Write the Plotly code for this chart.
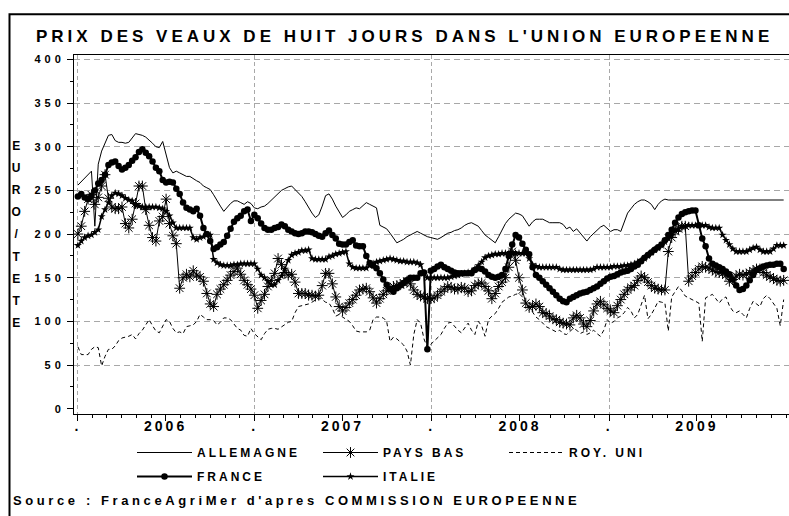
import pandas as pd
import plotly.graph_objects as go

# ---------------- data (weekly, from 1 Jan 2006) ----------------
weeks = pd.date_range("2006-01-01", periods=209, freq="7D")

allemagne = [
    256, 260, 264, 268, 272, 209, 280, 295, 305, 313,
    314, 307, 305, 305, 304, 305, 310, 315, 314, 313,
    311, 308, 304, 300, 299, 306, 290, 276, 270, 272,
    270, 268, 266, 266, 263, 261, 259, 255, 253, 251,
    245, 238, 232, 226, 231, 235, 238, 238, 236, 234,
    237, 235, 230, 229, 231, 232, 235, 239, 243, 247,
    250, 252, 254, 255, 251, 246, 243, 237, 230, 224,
    219, 222, 232, 244, 246, 240, 232, 225, 219, 222,
    226, 228, 230, 229, 232, 236, 234, 232, 230, 210,
    208, 206, 201, 196, 190, 192, 194, 197, 199, 201,
    203, 201, 199, 197, 196, 195, 194, 196, 199, 201,
    202, 204, 205, 207, 210, 212, 213, 211, 209, 204,
    199, 196, 193, 190, 197, 205, 212, 217, 220, 224,
    223, 221, 215, 209, 214, 217, 217, 217, 215, 213,
    213, 213, 213, 211, 206, 208, 203, 206, 201, 196,
    192, 197, 201, 205, 208, 210, 207, 203, 205, 205,
    203, 214, 224, 229, 234, 237, 239, 239, 237, 234,
    228, 234, 238, 240, 239, 239, 239, 239, 239, 239,
    239, 239, 239, 239, 239, 239, 239, 239, 239, 239,
    239, 239, 239, 239, 239, 239, 239, 239, 239, 239,
    239, 239, 239, 239, 239, 239, 239, 239, 239,
]

france = [
    243, 246, 242, 240, 244, 250, 258, 262, 268, 279,
    282, 283, 278, 274, 276, 279, 284, 288, 294, 297,
    293, 289, 283, 276, 272, 262, 259, 260, 259, 252,
    246, 236, 230, 228, 226, 229, 221, 207, 200, 192,
    183, 185, 188, 191, 198, 206, 214, 218, 221, 226,
    228, 215, 222, 218, 212, 207, 205, 205, 207, 208,
    211, 209, 205, 203, 201, 200, 201, 203, 203, 202,
    200, 198, 197, 201, 204, 199, 195, 189, 188, 188,
    191, 193, 187, 186, 186, 175, 167, 164, 161, 155,
    148, 142, 137, 134, 138, 141, 144, 147, 150, 150,
    150, 155, 156, 68, 158, 160, 163, 165, 162, 160,
    158, 156, 155, 155, 155, 155, 155, 159, 161, 160,
    157, 153, 151, 150, 151, 153, 160, 175, 188, 199,
    196, 189, 182, 177, 162, 153, 150, 146, 142, 138,
    134, 130, 126, 123, 122, 126, 128, 130, 132, 133,
    134, 136, 138, 140, 143, 146, 149, 151, 152, 154,
    156, 157, 158, 160, 163, 165, 169, 173, 176, 179,
    182, 185, 188, 193, 199, 205, 213, 219, 223, 225,
    226, 227, 227, 210, 195, 186, 172, 166, 164, 162,
    160, 157, 154, 148, 141, 136, 137, 141, 147, 153,
    159, 161, 163, 164, 165, 165, 166, 166, 160,
]

pays_bas = [
    200, 209, 226, 240, 245, 234, 242, 255, 268, 241,
    231, 229, 229, 231, 212, 207, 217, 235, 255, 255,
    228, 210, 196, 192, 215, 220, 240, 212, 198, 189,
    138, 150, 154, 151, 158, 153, 151, 146, 132, 120,
    117, 131, 137, 142, 147, 153, 157, 161, 154, 147,
    142, 137, 130, 115, 124, 131, 140, 147, 155, 172,
    165, 156, 153, 154, 145, 132, 132, 132, 130, 130,
    129, 130, 141, 155, 155, 143, 128, 117, 112, 116,
    121, 125, 130, 136, 137, 138, 134, 127, 121, 126,
    131, 135, 138, 140, 141, 142, 144, 146, 143, 136,
    131, 129, 128, 126, 126, 127, 130, 134, 137, 140,
    139, 137, 137, 139, 138, 134, 135, 141, 143, 144,
    140, 135, 126, 132, 140, 145, 150, 162, 180, 170,
    150, 136, 121, 116, 117, 120, 117, 110, 109, 106,
    103, 102, 99, 98, 97, 96, 104, 107, 104, 97,
    94, 101, 112, 120, 123, 119, 115, 112, 110, 118,
    125, 131, 136, 139, 141, 147, 152, 150, 145, 141,
    138, 137, 136, 136, 180, 196, 203, 206, 209, 209,
    146, 152, 156, 160, 163, 162, 161, 159, 157, 156,
    155, 153, 146, 148, 152, 154, 153, 154, 156, 158,
    160, 160, 156, 153, 151, 149, 147, 146, 147,
]

italie = [
    187, 192, 196, 198, 199, 202, 205, 220, 228, 236,
    244, 247, 246, 244, 241, 239, 238, 233, 232, 231,
    231, 231, 231, 231, 230, 229, 226, 221, 213, 207,
    207, 207, 207, 207, 196, 194, 196, 197, 199, 199,
    171, 167, 165, 164, 164, 164, 165, 165, 166, 166,
    166, 166, 166, 160, 153, 150, 146, 142, 142, 147,
    152, 160, 170, 176, 178, 179, 181, 181, 182, 172,
    171, 171, 171, 171, 174, 175, 177, 178, 179, 180,
    166, 162, 161, 161, 161, 161, 164, 166, 168, 169,
    170, 171, 172, 171, 170, 169, 169, 168, 168, 168,
    167, 165, 155, 150, 150, 150, 150, 150, 150, 150,
    151, 152, 153, 154, 155, 156, 157, 160, 164, 168,
    173, 175, 176, 177, 177, 178, 178, 178, 178, 178,
    178, 178, 178, 172, 165, 163, 162, 162, 162, 162,
    162, 162, 160, 159, 159, 159, 159, 159, 159, 159,
    159, 159, 160, 162, 162, 162, 162, 162, 163, 163,
    163, 164, 164, 165, 166, 168, 170, 172, 175, 179,
    182, 184, 187, 191, 195, 199, 204, 206, 209, 209,
    210, 210, 210, 210, 210, 210, 208, 207, 207, 207,
    199, 193, 188, 183, 180, 180, 180, 180, 182, 184,
    185, 182, 180, 180, 180, 183, 187, 187, 187,
]

roy_uni = [
    71, 62, 62, 62, 68, 71, 70, 49, 60, 68,
    68, 72, 78, 81, 82, 83, 85, 80, 86, 90,
    96, 102, 95, 89, 87, 94, 102, 100, 92, 87,
    88, 86, 94, 95, 96, 100, 108, 105, 102, 102,
    101, 96, 99, 104, 104, 102, 97, 92, 90, 84,
    83, 92, 86, 82, 79, 86, 91, 92, 92, 91,
    94, 97, 99, 100, 110, 117, 118, 119, 120, 122,
    125, 127, 125, 122, 121, 115, 106, 108, 105, 102,
    100, 95, 89, 88, 88, 88, 90, 102, 105, 105,
    104, 100, 77, 82, 80, 77, 73, 66, 50, 85,
    102, 98, 80, 70, 74, 78, 81, 85, 92, 98,
    99, 94, 90, 87, 92, 98, 90, 85, 100, 95,
    83, 102, 106, 109, 115, 122, 125, 128, 129, 131,
    132, 128, 122, 116, 110, 105, 102, 98, 94, 92,
    90, 88, 90, 86, 85, 88, 92, 90, 86, 88,
    85, 87, 90, 86, 83, 90, 102, 98, 100, 104,
    106, 110, 116, 112, 104, 108, 120, 130, 103, 108,
    115, 123, 122, 121, 89, 128, 134, 140, 135, 129,
    127, 125, 123, 121, 77, 127, 129, 131, 126, 121,
    126, 128, 118, 112, 110, 112, 108, 104, 115, 123,
    120, 117, 126, 130, 126, 120, 115, 95, 125,
]

year_starts = ["2006-01-01", "2007-01-01", "2008-01-01", "2009-01-01"]
mid_years = ["2006-07-01", "2007-07-01", "2008-07-01", "2009-07-01"]
year_labels = ["2006", "2007", "2008", "2009"]
y_ticks = [0, 50, 100, 150, 200, 250, 300, 350, 400]

X_RANGE = ["2005-12-24", "2010-01-07"]
Y_RANGE = [-6, 405]
FONT = "Liberation Sans, Arial, Helvetica, sans-serif"

fig = go.Figure()

fig.add_trace(go.Scatter(
    x=weeks, y=allemagne, name="ALLEMAGNE", mode="lines",
    line=dict(color="black", width=1), legend="legend"))
fig.add_trace(go.Scatter(
    x=weeks, y=france, name="FRANCE", mode="lines+markers",
    line=dict(color="black", width=2),
    marker=dict(symbol="circle", size=6.5, color="black"), legend="legend2"))
fig.add_trace(go.Scatter(
    x=weeks, y=pays_bas, name="PAYS BAS", mode="lines+markers",
    line=dict(color="black", width=1),
    marker=dict(symbol="asterisk-open", size=9, color="black",
                line=dict(color="black", width=1)), legend="legend"))
fig.add_trace(go.Scatter(
    x=weeks, y=italie, name="ITALIE", mode="lines+markers",
    line=dict(color="black", width=1.5),
    marker=dict(symbol="star", size=6, color="black"), legend="legend2"))
fig.add_trace(go.Scatter(
    x=weeks, y=roy_uni, name="ROY. UNI", mode="lines",
    line=dict(color="black", width=1, dash="4px,3px"), legend="legend"))
# empty trace that carries the grid axes
fig.add_trace(go.Scatter(x=[], y=[], xaxis="x2", yaxis="y2",
                         showlegend=False, hoverinfo="skip"))

tick_vals = []
tick_text = []
for ys, my, lab in zip(year_starts, mid_years, year_labels):
    tick_vals += [ys, my]
    tick_text += [".", lab]

fig.update_layout(
    width=789, height=516,
    margin=dict(l=74, r=0, t=55, b=102, autoexpand=False),
    paper_bgcolor="white", plot_bgcolor="white",
    font=dict(family=FONT, color="black", size=12),
    title=dict(text="PRIX DES VEAUX DE HUIT JOURS DANS L'UNION EUROPEENNE",
               x=36 / 789, xanchor="left", xref="container",
               y=1 - 36.5 / 516, yanchor="middle", yref="container",
               font=dict(family=FONT, size=17, weight="bold", color="black")),
    xaxis=dict(range=X_RANGE, type="date", tickmode="array",
               tickvals=tick_vals, ticktext=tick_text,
               showgrid=False, zeroline=False,
               ticks="outside", ticklen=6, tickcolor="black",
               ticklabelstandoff=-7,
               showline=True, linecolor="black", linewidth=1, mirror=True,
               tickfont=dict(family=FONT, size=14, weight="bold"),
               minor=dict(dtick="M1", tick0="2006-01-01", ticks="outside",
                          ticklen=3, tickcolor="black", showgrid=False)),
    yaxis=dict(range=Y_RANGE, tickmode="array", tickvals=y_ticks,
               showgrid=False, zeroline=False,
               ticks="outside", ticklen=6, tickcolor="black",
               showline=True, linecolor="black", linewidth=1,
               tickfont=dict(family=FONT, size=11, weight="bold"),
               minor=dict(dtick=25, tick0=0, ticks="outside", ticklen=3,
                          tickcolor="black", showgrid=False)),
    xaxis2=dict(range=X_RANGE, type="date", overlaying="x", side="bottom",
                tickmode="array", tickvals=year_starts,
                showticklabels=False, ticks="", showline=False,
                showgrid=True, gridcolor="#a8a8a8", gridwidth=1, griddash="4px,3px",
                zeroline=False),
    yaxis2=dict(range=Y_RANGE, overlaying="y", side="left",
                tickmode="array", tickvals=y_ticks[1:],
                showticklabels=False, ticks="", showline=False,
                showgrid=True, gridcolor="#a8a8a8", gridwidth=1, griddash="6px,4px",
                zeroline=False),
    legend=dict(orientation="h", x=(132 - 74) / 715, xanchor="left",
                y=(414 - 452.5) / 359, yanchor="middle",
                entrywidth=116, entrywidthmode="pixels", itemwidth=55,
                font=dict(family=FONT, size=12, weight="bold"),
                bgcolor="rgba(0,0,0,0)", borderwidth=0),
    legend2=dict(orientation="h", x=(132 - 74) / 715, xanchor="left",
                 y=(414 - 476.5) / 359, yanchor="middle",
                 entrywidth=116, entrywidthmode="pixels", itemwidth=55,
                 font=dict(family=FONT, size=12, weight="bold"),
                 bgcolor="rgba(0,0,0,0)", borderwidth=0),
    showlegend=True,
)

ylabel = "<br>".join(
    "<span style='font-size:12px'>" + c + "</span>" for c in "EURO/TETE")
fig.add_annotation(text=ylabel, xref="paper", yref="paper",
                   x=(18 - 74) / 715, y=(414 - 234) / 359,
                   xanchor="center", yanchor="middle", showarrow=False,
                   font=dict(family=FONT, size=17, weight="bold"))
fig.add_annotation(text="Source : FranceAgriMer d'apres COMMISSION EUROPEENNE",
                   xref="paper", yref="paper",
                   x=(11 - 74) / 715, y=(414 - 500) / 359,
                   xanchor="left", yanchor="middle", align="left",
                   showarrow=False,
                   font=dict(family=FONT, size=13, weight="bold"))

# outer frame of the figure
fig.add_shape(type="rect", xref="paper", yref="paper",
              x0=(9.5 - 74) / 715, x1=(800 - 74) / 715,
              y0=(414 - 530) / 359, y1=(414 - 14.3) / 359,
              line=dict(color="black", width=2), layer="above")

post = (
    "var s=document.createElement('style');"
    "s.textContent='body{margin:0;overflow:hidden} svg text{letter-spacing:3px} "
    "svg .gtitle{letter-spacing:4px} svg .ytick text{letter-spacing:4px} "
    "svg g.annotation[data-index=\"1\"] text{letter-spacing:3.6px}';"
    "document.head.appendChild(s);"
)

fig.write_html("out.html", post_script=post, config={"displayModeBar": False})
